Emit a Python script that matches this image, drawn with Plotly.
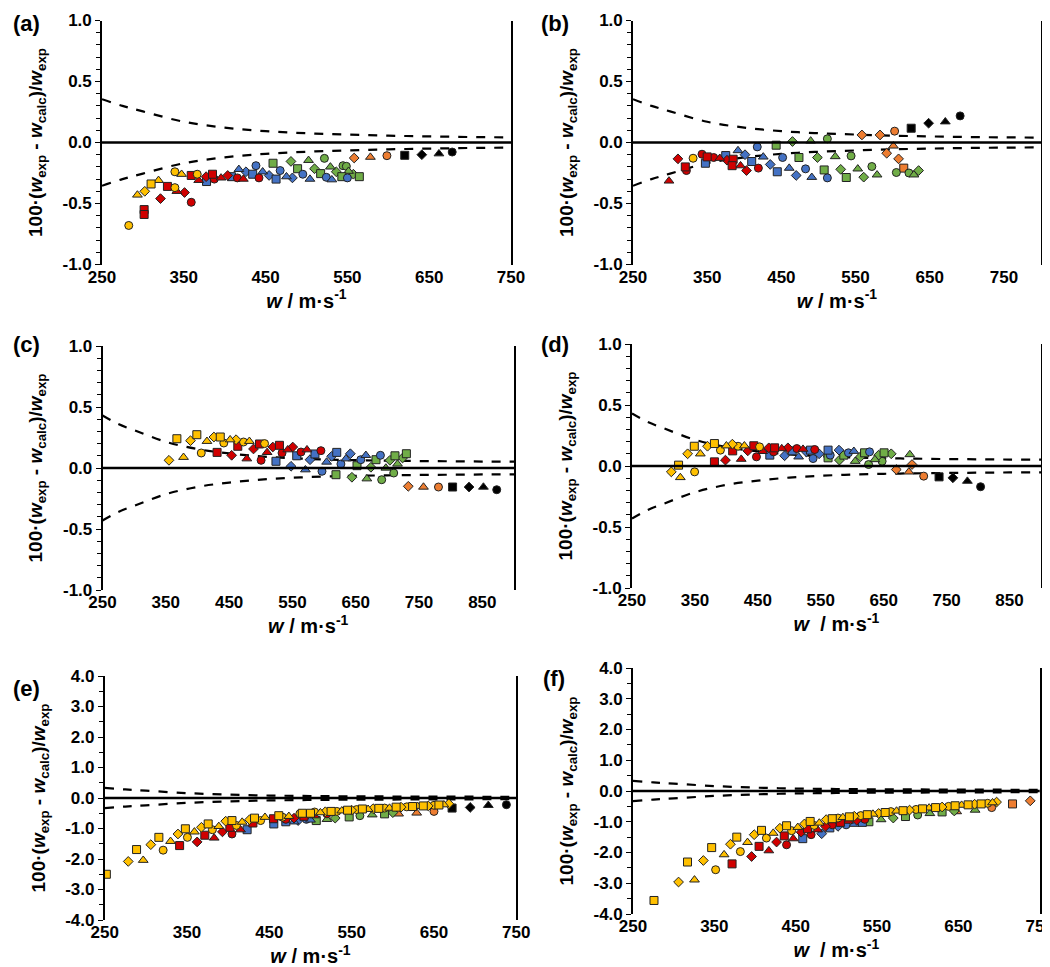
import plotly.graph_objects as go

W, H = 1050, 967

# data set keys: first letter = series (isotherm group), second = sub-series
# Y yellow, R red, B blue, G green, O orange, K black ; c, t, d, s = circle, triangle, diamond, square

# ---------------- panel (a)
A_W = [282.7, 293.3, 302.3, 301.5, 301.5, 310, 319.1, 321.5, 330, 339.1, 341.5, 350.9, 359.1, 339.1, 347.3, 359.1,
       366.4, 368.2, 377.3, 377.8, 385.1, 387.3, 395.5, 403.7, 408.2, 415.5, 422.8, 417.3, 426, 434.2, 438.2, 441.9,
       446.4, 454.3, 462.8, 467.8, 459.1, 481, 475.5, 482.8, 489.1, 502.5, 495.5, 504.2, 509.8, 521.9, 517.3, 524.2,
       529.2, 531, 536.4, 544.6, 548.7, 543.2, 551.4, 550, 557.3, 564.6, 558.3, 578.1, 598.3, 620.1, 641, 661.9, 678.1]
A_DEV = [-0.68, -0.43, -0.40, -0.55, -0.59, -0.34, -0.31, -0.46, -0.36, -0.37, -0.40, -0.41, -0.49, -0.24, -0.26,
         -0.27, -0.26, -0.31, -0.28, -0.32, -0.26, -0.30, -0.29, -0.27, -0.28, -0.29, -0.30, -0.22, -0.24, -0.26,
         -0.19, -0.29, -0.24, -0.27, -0.30, -0.23, -0.17, -0.155, -0.28, -0.29, -0.215, -0.146, -0.26, -0.30,
         -0.215, -0.13, -0.255, -0.285, -0.20, -0.305, -0.24, -0.19, -0.195, -0.28, -0.235, -0.29, -0.26, -0.28,
         -0.127, -0.12, -0.108, -0.105, -0.10, -0.092, -0.078]
A_SET = ["Yc", "Yt", "Yd", "Rs", "Rs", "Ys", "Yt", "Rd", "Rs", "Yc", "Rt", "Rd", "Rc", "Yc", "Yt", "Rs", "Yc",
         "Rt", "Rd", "Bs", "Rs", "Rc", "Rt", "Rd", "Bs", "Rc", "Rt", "Bt", "Bd", "Bs", "Bc", "Rc", "Bt", "Bd", "Bs",
         "Bc", "Gs", "Gd", "Bt", "Bd", "Gs", "Gt", "Bc", "Bt", "Gd", "Gc", "Gs", "Bc", "Gt", "Bt", "Gd", "Gc", "Gc",
         "Gs", "Gt", "Bc", "Gd", "Gs", "Od", "Ot", "Oc", "Ks", "Kd", "Kt", "Kc"]

# ---------------- panel (b)
B_W = [298.5, 310.6, 320.5, 322, 331, 343, 350, 347.6, 358.8, 367, 375, 376.7, 385, 383.6, 395, 391.5, 401, 403,
       410, 419, 417.5, 425.6, 435, 444.5, 443, 451.7, 460.6, 470, 473.7, 465, 482.6, 489.5, 491, 498.6, 507.7,
       512, 512, 522.6, 530, 537.5, 544, 553, 561, 572, 579, 558.6, 583, 602.7, 601, 592, 608, 615, 605, 622,
       628.7, 635, 625, 648.5, 671, 691]
B_DEV = [-0.315, -0.134, -0.20, -0.23, -0.129, -0.096, -0.118, -0.17, -0.123, -0.129, -0.107, -0.145, -0.137,
         -0.19, -0.19, -0.066, -0.10, -0.23, -0.156, -0.21, -0.036, -0.118, -0.18, -0.24, -0.022, -0.123, -0.21,
         -0.27, -0.123, 0.008, -0.216, 0.013, -0.285, -0.123, -0.225, 0.03, -0.29, -0.115, -0.22, -0.287, -0.11,
         -0.216, -0.284, -0.197, -0.265, 0.062, 0.062, 0.093, -0.028, -0.088, -0.134, -0.21, -0.246, -0.25, -0.265,
         -0.23, 0.117, 0.158, 0.17, 0.218]
B_SET = ["Rt", "Rd", "Rs", "Rc", "Yc", "Rc", "Rs", "Bs", "Rc", "Rt", "Bs", "Rd", "Rs", "Rs", "Rt", "Bt", "Bd", "Rd",
         "Bs", "Rc", "Bc", "Bt", "Bd", "Bs", "Gs", "Bc", "Bt", "Bd", "Gs", "Gd", "Bc", "Gt", "Bt", "Gd", "Gs", "Gc",
         "Bc", "Gt", "Gd", "Gs", "Gc", "Gt", "Gd", "Gc", "Gt", "Od", "Od", "Oc", "Ot", "Od", "Od", "Os", "Gc", "Gc",
         "Gt", "Gd", "Ks", "Kd", "Kt", "Kc"]

# ---------------- panel (c)
C_W = [367.5, 355, 378, 389, 399, 406, 415, 426, 436, 441.6, 451.6, 461, 472.7, 482, 431, 454, 463.7, 478, 488.5,
       498, 506, 500.5, 510, 519, 529.5, 524, 533.6, 542.6, 550.5, 547.8, 563.6, 573, 556.8, 570.5, 577.8, 585.6,
       596.7, 595, 604, 612, 620, 626.6, 634.6, 641.5, 658, 666, 689, 618.8, 652, 644, 674, 667.6, 682, 691, 697.6,
       704, 712, 710, 716, 724, 730, 733, 757, 780.7, 803, 829, 851.7, 872.7]
C_DEV = [0.24, 0.063, 0.088, 0.224, 0.273, 0.123, 0.219, 0.254, 0.254, 0.205, 0.232, 0.232, 0.213, 0.219, 0.128,
         0.104, 0.178, 0.076, 0.156, 0.197, 0.20, 0.063, 0.128, 0.172, 0.186, 0.055, 0.123, 0.15, 0.172, 0.014,
         0.131, 0.15, 0.10, -0.014, 0.068, 0.115, -0.027, 0.142, 0.049, 0.096, 0.128, 0.033, 0.076, 0.117, 0.068,
         0.104, 0.104, -0.055, 0.019, -0.076, 0.006, -0.088, 0.068, -0.096, 0.0, 0.063, 0.10, -0.041, 0.033, 0.082,
         0.117, -0.15, -0.156, -0.156, -0.156, -0.156, -0.156, -0.178]
C_SET = ["Ys", "Yd", "Yt", "Yd", "Ys", "Yc", "Yt", "Yd", "Ys", "Yc", "Yt", "Yd", "Yc", "Yt", "Rs", "Rd", "Rs", "Rt",
         "Rd", "Rs", "Yc", "Rc", "Rt", "Rd", "Rs", "Bs", "Rc", "Rt", "Rd", "Bd", "Rc", "Rt", "Bs", "Bt", "Bd", "Bs",
         "Bc", "Rc", "Bt", "Bd", "Bs", "Bc", "Bt", "Bd", "Bc", "Bt", "Bc", "Gs", "Gs", "Gd", "Gd", "Gt", "Gs", "Gc",
         "Gt", "Gd", "Gs", "Gc", "Gt", "Gd", "Gs", "Od", "Ot", "Oc", "Ks", "Kd", "Kt", "Kc"]

# ---------------- panel (d)
D_W = [312.5, 324, 326.8, 349.5, 338.4, 349, 358.6, 370, 381, 390.5, 400, 409.5, 418.5, 428.6, 381, 398.5, 410,
       423.6, 434, 443.6, 452.7, 447.8, 457.8, 467.4, 469, 476.6, 475, 488, 492.5, 497.8, 504.6, 512, 514.8, 521.8,
       527, 533.6, 540.4, 537.8, 547.4, 561.6, 561.6, 565, 579, 579.6, 594, 602.6, 586.6, 604.7, 619.6, 627.5, 613,
       626, 636, 642, 650.6, 647.5, 662, 691.5, 670, 695, 690, 713.6, 738, 760, 783, 804]
D_DEV = [-0.048, 0.007, -0.094, -0.048, 0.10, 0.162, 0.10, 0.162, 0.184, 0.13, 0.166, 0.179, 0.162, 0.166, 0.034,
         0.048, 0.124, 0.056, 0.124, 0.166, 0.157, 0.075, 0.12, 0.149, 0.089, 0.149, 0.116, 0.143, 0.084, 0.149,
         0.124, 0.143, 0.075, 0.138, 0.116, 0.13, 0.135, 0.061, 0.10, 0.067, 0.13, 0.089, 0.13, 0.048, 0.108, 0.121,
         0.089, 0.039, 0.108, 0.116, 0.075, 0.012, 0.053, 0.089, 0.108, 0.039, 0.10, 0.094, -0.029, 0.012, -0.048,
         -0.083, -0.089, -0.097, -0.124, -0.17]
D_SET = ["Yd", "Ys", "Yt", "Yc", "Yd", "Ys", "Yt", "Yd", "Ys", "Yc", "Yt", "Yd", "Yc", "Yt", "Rs", "Rd", "Rs", "Rt",
         "Rd", "Rs", "Yc", "Rc", "Rt", "Rd", "Bs", "Rs", "Rc", "Rt", "Bd", "Rd", "Bs", "Rc", "Bt", "Rt", "Bd", "Bs",
         "Rc", "Bc", "Bd", "Gs", "Bs", "Bc", "Bd", "Gd", "Bc", "Bt", "Gs", "Gt", "Gs", "Bc", "Gd", "Gc", "Gt", "Gd",
         "Gs", "Gc", "Gd", "Gt", "Od", "Od", "Ot", "Oc", "Ks", "Kd", "Kt", "Kc"]

# ---------------- panel (e)
E_W = [252, 278.6, 288.7, 296.8, 306, 315.8, 321, 330, 341, 339, 348, 350.5, 359, 362.3, 367.5, 371.6, 375.7, 380.8,
       383, 388.6, 393, 397, 402, 404.6, 404.6, 410, 417, 423, 415, 426, 432, 430, 439.4, 444.7, 455, 455.4, 461.5,
       466, 473.7, 480, 487, 490,
       500, 505, 512, 518, 525, 532, 538, 545, 550, 556, 563, 570, 576, 583, 590, 596, 604, 610, 617, 624, 630, 637,
       643, 650, 656, 662, 668,
       470, 480, 492, 505, 520, 470, 485, 495, 500, 507, 520, 530, 547, 560, 575, 590, 600,
       607, 629, 650, 672, 694, 716, 738]
E_DEV = [-2.5, -2.08, -1.69, -2.04, -1.53, -1.29, -1.71, -1.42, -1.56, -1.18, -1.01, -1.29, -1.11, -1.44, -0.96,
         -1.22, -0.85, -1.04, -1.31, -0.93, -1.11, -0.76, -0.96, -1.18, -0.74, -0.90, -0.79, -1.04, -1.04, -0.71,
         -0.66, -0.82, -0.74, -0.63, -0.68, -0.85, -0.58, -0.63, -0.60, -0.78, -0.52, -0.50,
         -0.50, -0.46, -0.48, -0.45, -0.44, -0.44, -0.42, -0.40, -0.40, -0.38, -0.36, -0.37, -0.35, -0.34, -0.33,
         -0.33, -0.30, -0.30, -0.29, -0.28, -0.27, -0.26, -0.26, -0.24, -0.23, -0.22, -0.19,
         -0.70, -0.66, -0.60, -0.58, -0.52, -0.78, -0.74, -0.70, -0.72, -0.74, -0.70, -0.66, -0.62, -0.58, -0.55,
         -0.52, -0.48,
         -0.52, -0.49, -0.44, -0.33, -0.31, -0.24, -0.22]
E_SET = ["Ys", "Yd", "Ys", "Yt", "Yd", "Ys", "Yc", "Yt", "Rs", "Yd", "Ys", "Yc", "Yt", "Rd", "Yd", "Rs", "Ys", "Yc",
         "Rt", "Yt", "Rd", "Yd", "Rs", "Rc", "Ys", "Yc", "Yt", "Bs", "Rt", "Yd", "Ys", "Rs", "Yc", "Yt", "Rs", "Bs",
         "Ys", "Yc", "Yt", "Bt", "Yc", "Ys",
         "Ys", "Yc", "Yt", "Yd", "Ys", "Yc", "Yt", "Ys", "Yd", "Yc", "Ys", "Yt", "Yd", "Ys", "Yc", "Yt", "Ys", "Yd",
         "Yc", "Ys", "Yt", "Ys", "Yd", "Yc", "Ys", "Yt", "Yd",
         "Rc", "Rd", "Rs", "Rt", "Rc", "Bs", "Bd", "Bc", "Bt", "Gs", "Gt", "Gd", "Gs", "Gc", "Gt", "Gs", "Gd",
         "Ot", "Ot", "Oc", "Ks", "Kd", "Kt", "Kc"]

# ---------------- panel (f)
F_W = [275.8, 306, 325.6, 317, 336.5, 351.6, 346.7, 362, 371.8, 369.8, 382, 377.6, 390.8, 395.8, 399, 405, 408, 414,
       417, 422.4, 426.5, 430.6, 438.8, 438.8, 436, 445, 447, 452.6, 458.7, 456.7, 460.8, 467.8, 464.5, 469, 472.7,
       477, 479, 482, 486.7, 487.5,
       495, 502, 508, 516, 522, 530, 538, 545, 552, 560, 567, 574, 582, 590, 598, 606, 614, 622, 630, 638, 646, 654,
       662, 670, 678, 686, 692, 697,
       495, 505, 515, 525, 535, 492, 502, 512, 522, 532, 540, 555, 570, 585, 600, 615, 630, 645, 670.6,
       648, 691, 716.6, 738.4]
F_DEV = [-3.56, -2.96, -2.89, -2.31, -2.26, -2.56, -1.84, -2.07, -2.37, -1.73, -1.97, -1.50, -1.67, -2.13, -1.42,
         -1.80, -1.28, -1.53, -1.94, -1.37, -1.66, -1.21, -1.75, -1.13, -1.46, -1.29, -1.55, -1.18, -1.55, -1.34,
         -1.07, -0.99, -1.23, -1.42, -1.12, -1.26, -1.04, -1.39, -1.15, -0.93,
         -0.90, -0.88, -0.86, -0.84, -0.82, -0.80, -0.77, -0.75, -0.73, -0.70, -0.67, -0.65, -0.64, -0.62, -0.60,
         -0.58, -0.55, -0.54, -0.52, -0.50, -0.48, -0.46, -0.45, -0.43, -0.42, -0.40, -0.38, -0.36,
         -1.10, -1.02, -0.98, -0.95, -0.92, -1.20, -1.15, -1.10, -1.08, -1.02, -1.00, -0.93, -0.88, -0.83, -0.78,
         -0.73, -0.68, -0.65, -0.62,
         -0.67, -0.54, -0.42, -0.32]
F_SET = ["Ys", "Yd", "Yt", "Ys", "Yd", "Yc", "Ys", "Yt", "Rs", "Yd", "Yc", "Ys", "Yt", "Rd", "Yd", "Rs", "Ys", "Yc",
         "Rt", "Yt", "Rd", "Yd", "Rc", "Ys", "Rs", "Yc", "Rt", "Yt", "Bs", "Rd", "Yd", "Ys", "Rs", "Rc", "Yc", "Rt",
         "Yt", "Bd", "Rd", "Yd",
         "Ys", "Yc", "Yt", "Ys", "Yd", "Yc", "Ys", "Yt", "Yd", "Ys", "Yc", "Yt", "Ys", "Yd", "Yc", "Ys", "Yt", "Ys",
         "Yd", "Yc", "Ys", "Yt", "Ys", "Yd", "Ys", "Yc", "Yt", "Yd",
         "Rc", "Rs", "Rt", "Rd", "Rc", "Bs", "Bd", "Bc", "Bt", "Bs", "Gs", "Gt", "Gd", "Gs", "Gc", "Gt", "Gs", "Gd",
         "Gt", "Ot", "Oc", "Os", "Od"]

# dashed uncertainty envelopes (+/-)
AB_BAND_W = [250, 275, 300, 350, 400, 450, 500, 550, 600, 650, 700, 750, 800]
AB_BAND = [0.355, 0.30, 0.255, 0.17, 0.122, 0.093, 0.076, 0.065, 0.056, 0.05, 0.045, 0.042, 0.04]
CD_BAND_W = [250, 275, 300, 350, 400, 450, 500, 550, 600, 650, 700, 750, 800, 850, 900]
CD_BAND = [0.43, 0.36, 0.31, 0.215, 0.155, 0.12, 0.095, 0.08, 0.07, 0.064, 0.06, 0.057, 0.055, 0.053, 0.052]
EF_BAND_W = [250, 275, 300, 350, 400, 450, 500, 550, 600, 650, 700, 750]
EF_BAND = [0.33, 0.28, 0.24, 0.16, 0.11, 0.08, 0.065, 0.055, 0.05, 0.045, 0.042, 0.04]

COLORS = {"Y": "#FFC000", "R": "#D00000", "B": "#4472C4", "G": "#70AD47", "O": "#ED7D31", "K": "#000000"}
SYMBOLS = {"c": "circle", "t": "triangle-up", "d": "diamond", "s": "square"}
SIZES = {"c": 8, "t": 8.5, "d": 7.5, "s": 8}
DRAW_ORDER = ["K", "O", "G", "B", "R", "Y"]

FONT = "Liberation Sans, Arial, sans-serif"
YTITLE = "100·(<i>w</i><sub>exp</sub> - <i>w</i><sub>calc</sub>)/<i>w</i><sub>exp</sub>"
XT1 = "<i>w</i> / m·s<sup>-1</sup>"
XT2 = "<i>w</i>  / m·s<sup>-1</sup>"

# panel geometry in pixels: (left, right, top, bottom), label position (x, y)
PANELS = [
    ("a", A_W, A_DEV, A_SET, AB_BAND_W, AB_BAND, (94, 503, 12.5, 256.5), (3, 15), [250, 750], 1.0, XT1),
    ("b", B_W, B_DEV, B_SET, AB_BAND_W, AB_BAND, (625, 1033, 12.5, 256.5), (531, 15), [250, 800], 1.0, XT1),
    ("c", C_W, C_DEV, C_SET, CD_BAND_W, CD_BAND, (94.5, 506, 338, 582), (3, 336), [250, 900], 1.0, XT1),
    ("d", D_W, D_DEV, D_SET, CD_BAND_W, CD_BAND, (624, 1033, 336, 580), (531, 336), [250, 900], 1.0, XT2),
    ("e", E_W, E_DEV, E_SET, EF_BAND_W, EF_BAND, (96.7, 508.3, 668, 912), (3, 680), [250, 750], 4.0, XT1),
    ("f", F_W, F_DEV, F_SET, EF_BAND_W, EF_BAND, (625, 1031.7, 660, 906), (533, 670), [250, 750], 4.0, XT2),
]

fig = go.Figure()
layout = {}
annotations = []
shapes = []

for i, (letter, ws, devs, sets, bw, band, (l, r, t, b), (lx, ly), xr, ylim, xtitle) in enumerate(PANELS):
    n = "" if i == 0 else str(i + 1)
    xa, ya = "x" + n, "y" + n

    # dashed envelopes
    for sign in (1, -1):
        fig.add_trace(go.Scatter(x=bw, y=[sign * v for v in band], mode="lines", xaxis=xa, yaxis=ya,
                                 line=dict(color="black", width=2.2, dash="dash", shape="spline"),
                                 showlegend=False, hoverinfo="skip"))

    # data sets
    for g in DRAW_ORDER:
        for s in "cdts":
            key = g + s
            px = [w for w, k in zip(ws, sets) if k == key]
            py = [d for d, k in zip(devs, sets) if k == key]
            if not px:
                continue
            fig.add_trace(go.Scatter(x=px, y=py, mode="markers", xaxis=xa, yaxis=ya, showlegend=False,
                                     marker=dict(symbol=SYMBOLS[s], size=SIZES[s], color=COLORS[g],
                                                 line=dict(color="#222222", width=1))))

    shapes.append(dict(type="line", xref=xa + " domain", x0=0, x1=1, yref=ya, y0=0, y1=0,
                       line=dict(color="black", width=2.4), layer="above"))

    step = 0.5 if ylim == 1.0 else 1.0
    vals = [round(-ylim + k * step, 2) for k in range(int(2 * ylim / step) + 1)]
    layout["xaxis" + n] = dict(
        domain=[l / W, r / W], anchor=ya, range=xr, automargin=False,
        tickvals=list(range(250, xr[1] + 1, 100)), ticks="", showgrid=False, zeroline=False,
        showline=False, tickfont=dict(family=FONT, size=17, color="black", weight="bold"),
        title=dict(text=xtitle, font=dict(family=FONT, size=20, color="black", weight="bold"), standoff=7),
    )
    layout["yaxis" + n] = dict(
        domain=[1 - b / H, 1 - t / H], anchor=xa, range=[-ylim, ylim], automargin=False,
        tickvals=vals, ticktext=["%.1f" % v for v in vals],
        ticks="outside", ticklen=5, tickwidth=1.2, tickcolor="black",
        minor=dict(dtick=0.1 if ylim == 1.0 else 0.5, ticks="outside", ticklen=4, tickcolor="black"),
        showline=True, linecolor="black", linewidth=1.6, mirror=True,
        showgrid=False, zeroline=False,
        tickfont=dict(family=FONT, size=17, color="black", weight="bold"),
        title=dict(text=YTITLE, font=dict(family=FONT, size=19, color="black", weight="bold"), standoff=15),
    )
    annotations.append(dict(text="(%s)" % letter, xref="paper", yref="paper", x=lx / W, y=1 - ly / H,
                            xanchor="left", yanchor="middle", showarrow=False,
                            font=dict(family=FONT, size=22, color="black", weight="bold")))

fig.update_layout(width=W, height=H, margin=dict(l=0, r=0, t=0, b=0),
                  plot_bgcolor="white", paper_bgcolor="white",
                  annotations=annotations, shapes=shapes, **layout)

fig.write_html("out.html")
